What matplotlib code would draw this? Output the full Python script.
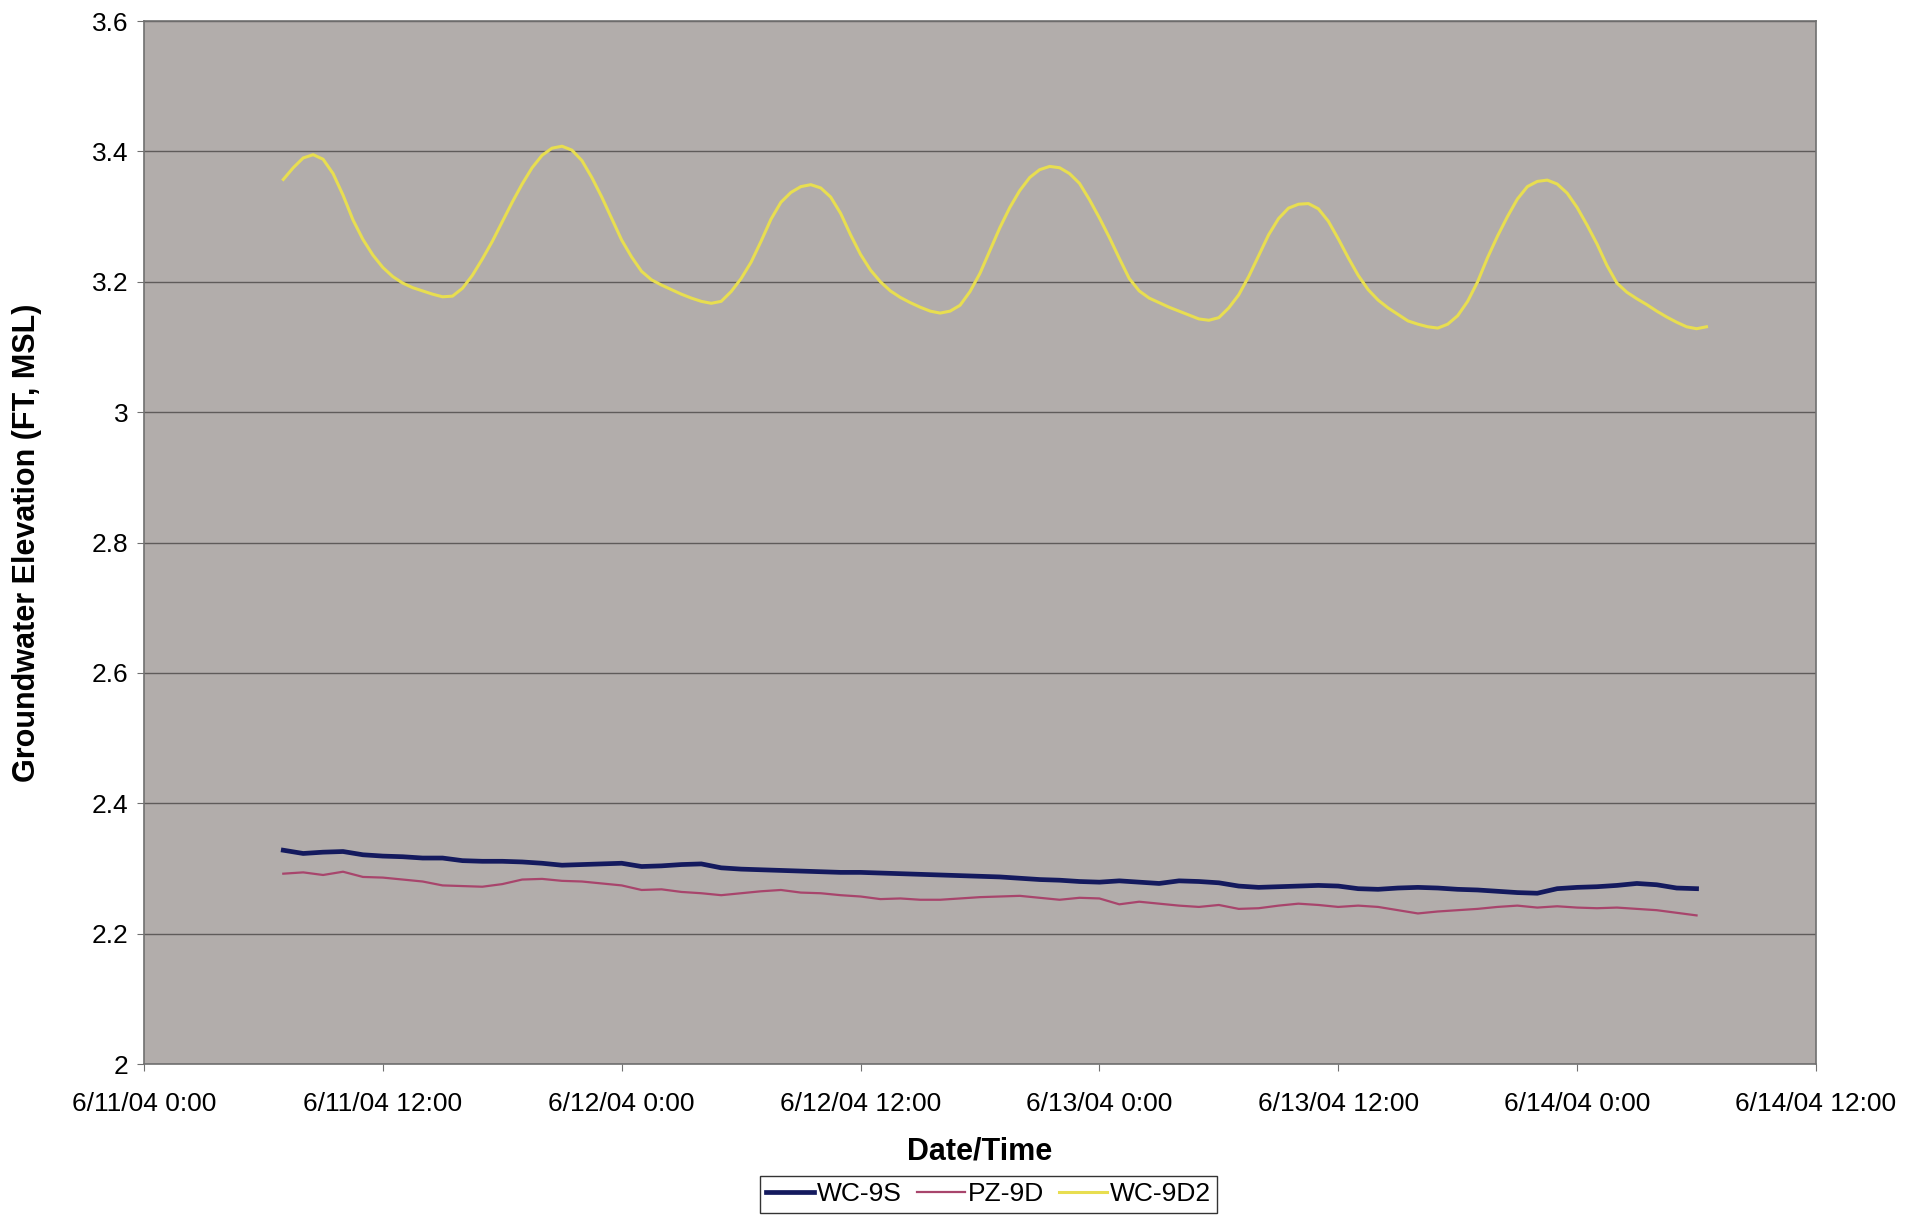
import matplotlib
matplotlib.use("Agg")
import matplotlib.pyplot as plt
import matplotlib.dates as mdates
from matplotlib.ticker import FuncFormatter, MultipleLocator
import numpy as np
import pandas as pd

plt.rcParams["font.family"] = ["Liberation Sans", "DejaVu Sans"]

START = pd.Timestamp("2004-06-11 00:00")

# WC-9D2: read every half hour from 6/11 7:00
wc9d2_hours = np.arange(7.0, 79.0, 0.5)
wc9d2 = [
    3.357, 3.375, 3.390, 3.395, 3.388, 3.366, 3.333, 3.295, 3.265, 3.241,
    3.222, 3.208, 3.198, 3.191, 3.186, 3.181, 3.177, 3.178, 3.190, 3.210,
    3.235, 3.262, 3.292, 3.322, 3.350, 3.375, 3.394, 3.405, 3.408, 3.402,
    3.386, 3.360, 3.330, 3.297, 3.264, 3.238, 3.216, 3.203, 3.195, 3.188,
    3.181, 3.175, 3.170, 3.167, 3.170, 3.185, 3.205, 3.230, 3.262, 3.296,
    3.322, 3.337, 3.346, 3.349, 3.344, 3.330, 3.305, 3.272, 3.242, 3.218,
    3.200, 3.186, 3.176, 3.168, 3.161, 3.155, 3.152, 3.155, 3.164, 3.185,
    3.213, 3.248, 3.283, 3.314, 3.340, 3.360, 3.372, 3.377, 3.375, 3.366,
    3.351, 3.326, 3.298, 3.268, 3.236, 3.205, 3.186, 3.175, 3.168, 3.161,
    3.155, 3.149, 3.143, 3.141, 3.145, 3.160, 3.180, 3.208, 3.240, 3.272,
    3.297, 3.313, 3.319, 3.320, 3.312, 3.293, 3.266, 3.237, 3.210, 3.188,
    3.172, 3.160, 3.150, 3.140, 3.135, 3.131, 3.129, 3.135, 3.148, 3.170,
    3.200, 3.237, 3.270, 3.300, 3.327, 3.346, 3.354, 3.356, 3.350, 3.336,
    3.314, 3.287, 3.258, 3.225, 3.198, 3.184, 3.174, 3.165, 3.155, 3.146,
    3.138, 3.131, 3.128, 3.131,
]

# WC-9S and PZ-9D: read every hour from 6/11 7:00
shallow_hours = np.arange(7.0, 79.0, 1.0)
wc9s = [
    2.328, 2.323, 2.325, 2.326, 2.321, 2.319, 2.318, 2.316, 2.316, 2.312,
    2.311, 2.311, 2.310, 2.308, 2.305, 2.306, 2.307, 2.308, 2.303, 2.304,
    2.306, 2.307, 2.301, 2.299, 2.298, 2.297, 2.296, 2.295, 2.294, 2.294,
    2.293, 2.292, 2.291, 2.290, 2.289, 2.288, 2.287, 2.285, 2.283, 2.282,
    2.280, 2.279, 2.281, 2.279, 2.277, 2.281, 2.280, 2.278, 2.273, 2.271,
    2.272, 2.273, 2.274, 2.273, 2.269, 2.268, 2.270, 2.271, 2.270, 2.268,
    2.267, 2.265, 2.263, 2.262, 2.269, 2.271, 2.272, 2.274, 2.277, 2.275,
    2.270, 2.269,
]
pz9d = [
    2.292, 2.294, 2.290, 2.295, 2.287, 2.286, 2.283, 2.280, 2.274, 2.273,
    2.272, 2.276, 2.283, 2.284, 2.281, 2.280, 2.277, 2.274, 2.267, 2.268,
    2.264, 2.262, 2.259, 2.262, 2.265, 2.267, 2.263, 2.262, 2.259, 2.257,
    2.253, 2.254, 2.252, 2.252, 2.254, 2.256, 2.257, 2.258, 2.255, 2.252,
    2.255, 2.254, 2.245, 2.249, 2.246, 2.243, 2.241, 2.244, 2.238, 2.239,
    2.243, 2.246, 2.244, 2.241, 2.243, 2.241, 2.236, 2.231, 2.234, 2.236,
    2.238, 2.241, 2.243, 2.240, 2.242, 2.240, 2.239, 2.240, 2.238, 2.236,
    2.232, 2.228,
]


def to_times(hours):
    return START + pd.to_timedelta(hours, unit="h")


fig = plt.figure(figsize=(19.17, 12.17), dpi=100)
ax = fig.add_axes([0.0751, 0.1257, 0.8722, 0.857])
ax.set_facecolor("#b2adab")

ax.plot(to_times(shallow_hours), wc9s, color="#141a5e", linewidth=3.4, label="WC-9S")
ax.plot(to_times(shallow_hours), pz9d, color="#a8456c", linewidth=1.6, label="PZ-9D")
ax.plot(to_times(wc9d2_hours), wc9d2, color="#e8de50", linewidth=2.2, label="WC-9D2")

ax.set_ylim(2.0, 3.6)
ax.set_xlim(START, START + pd.Timedelta(hours=84))
ax.yaxis.set_major_locator(MultipleLocator(0.2))
ax.yaxis.set_major_formatter(FuncFormatter(lambda v, _: f"{v:g}"))
ax.xaxis.set_major_locator(mdates.HourLocator(byhour=[0, 12]))


def fmt_date(x, _):
    d = mdates.num2date(x)
    return f"{d.month}/{d.day}/{d:%y} {d.hour}:{d:%M}"


ax.xaxis.set_major_formatter(FuncFormatter(fmt_date))
ax.grid(axis="y", color="#5f5b5a", linewidth=1.0)
ax.set_axisbelow(True)
for side in ("left", "right", "top", "bottom"):
    ax.spines[side].set_color("#707070")
    ax.spines[side].set_linewidth(1.2)

ax.tick_params(axis="y", labelsize=19, length=5, pad=6, color="#707070")
ax.tick_params(axis="x", labelsize=19, length=5, pad=15, color="#707070")

ax.set_xlabel("Date/Time", fontsize=22, fontweight="bold", labelpad=15)
ax.set_ylabel("Groundwater Elevation (FT, MSL)", fontsize=22, fontweight="bold", labelpad=36)

leg = fig.legend(loc="center", bbox_to_anchor=(0.5157, 0.0185), ncol=3,
                 fontsize=19, frameon=True, fancybox=False, handlelength=1.8,
                 handletextpad=0.1, columnspacing=0.6, borderpad=0.25,
                 borderaxespad=0.0)
leg.get_frame().set_edgecolor("black")
leg.get_frame().set_linewidth(1.0)

fig.savefig("out.png", dpi=100)
